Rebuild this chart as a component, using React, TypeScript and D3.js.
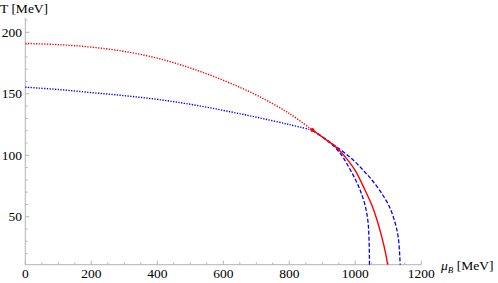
import * as d3 from 'd3'
import React from 'react'

// [mu_B, T] in MeV
const redDotted = [[0, 191], [100, 190], [200, 188], [300, 184.5], [400, 179], [500, 171], [600, 161], [700, 149], [800, 134], [870, 120.5]]
const blueDotted = [[0, 155.4], [100, 153.5], [200, 151], [300, 148.5], [400, 145.5], [500, 141.5], [600, 136.5], [700, 131], [800, 125], [870, 120.5]]
const redSolid = [[870, 120.5], [908, 113.4], [948, 105.2], [979, 95.5], [1000, 87.5], [1029, 72], [1050, 59.5], [1065, 48], [1080, 33.8], [1092, 20], [1098, 11]]
const blueInner = [[870, 120.5], [908, 113.4], [940, 106], [960, 99.5], [980, 90.5], [1000, 80.5], [1014, 72], [1029, 60], [1038, 47], [1041.5, 33], [1043, 11]]
const blueOuter = [[870, 120.5], [908, 113.4], [940, 107.5], [970, 101.5], [1000, 94.5], [1025, 87.5], [1050, 80], [1075, 71], [1100, 60], [1118, 47.5], [1130, 33.5], [1136, 11]]
const criticalPoint = [870, 120.5]

const xTicks = [0, 200, 400, 600, 800, 1000, 1200]
const yTicks = [50, 100, 150, 200]

const width = 498
const height = 283
const font = "'Liberation Serif', 'Times New Roman', serif"

export default function App () {
  const x = d3.scaleLinear().domain([0, 1200]).range([25.3, 421.3])
  const y = d3.scaleLinear().domain([11, 212]).range([264.7, 17.6])

  const line = d3.line<number[]>()
    .x(d => x(d[0]))
    .y(d => y(d[1]))
    .curve(d3.curveCatmullRom.alpha(0.5))

  const xMinor = d3.range(0, 1201, 50).filter(v => v % 200 !== 0)
  const yMinor = d3.range(20, 211, 10).filter(v => v % 50 !== 0)
  const axisColor = '#b3b3b3'
  const txt = { fontFamily: font, fontSize: 13.5 }

  return (
    <svg width={width} height={height} style={{ position: 'absolute', left: 0, top: 0, background: '#fff' }}>
      {/* axes */}
      <line x1={x(0)} x2={x(1200)} y1={y(11)} y2={y(11)} stroke={axisColor} strokeWidth={1} />
      <line x1={x(0)} x2={x(0)} y1={y(11)} y2={y(212)} stroke={axisColor} strokeWidth={1} />
      {xTicks.map(t => (
        <g key={'xt' + t}>
          <line x1={x(t)} x2={x(t)} y1={y(11)} y2={y(11) - 4} stroke={axisColor} />
          <text x={x(t)} y={278} textAnchor='middle' style={txt}>{t}</text>
        </g>
      ))}
      {xMinor.map(t => (
        <line key={'xm' + t} x1={x(t)} x2={x(t)} y1={y(11)} y2={y(11) - 2.3} stroke={axisColor} />
      ))}
      {yTicks.map(t => (
        <g key={'yt' + t}>
          <line x1={x(0)} x2={x(0) + 4} y1={y(t)} y2={y(t)} stroke={axisColor} />
          <text x={22} y={y(t) + 4.5} textAnchor='end' style={txt}>{t}</text>
        </g>
      ))}
      {yMinor.map(t => (
        <line key={'ym' + t} x1={x(0)} x2={x(0) + 2.3} y1={y(t)} y2={y(t)} stroke={axisColor} />
      ))}
      <text x={0} y={13} style={txt}>T [MeV]</text>
      <text x={441} y={270} style={txt}>
        <tspan fontStyle='italic'>μ</tspan>
        <tspan fontStyle='italic' fontSize={9} dy={3}>B</tspan>
        <tspan dy={-3}> [MeV]</tspan>
      </text>

      {/* curves */}
      <path d={line(redDotted) ?? ''} fill='none' stroke='#ff0000' strokeWidth={1.4} strokeDasharray='1.3,1.4' />
      <path d={line(blueDotted) ?? ''} fill='none' stroke='#0000ff' strokeWidth={1.4} strokeDasharray='1.3,1.4' />
      <path d={line(blueInner) ?? ''} fill='none' stroke='#0000ff' strokeWidth={1.3} strokeDasharray='4,2' />
      <path d={line(blueOuter) ?? ''} fill='none' stroke='#0000ff' strokeWidth={1.3} strokeDasharray='4,2' />
      <path d={line(redSolid) ?? ''} fill='none' stroke='#ff0000' strokeWidth={1.4} />
      <circle cx={x(criticalPoint[0])} cy={y(criticalPoint[1])} r={2} fill='#ff0000' />
    </svg>
  )
}
